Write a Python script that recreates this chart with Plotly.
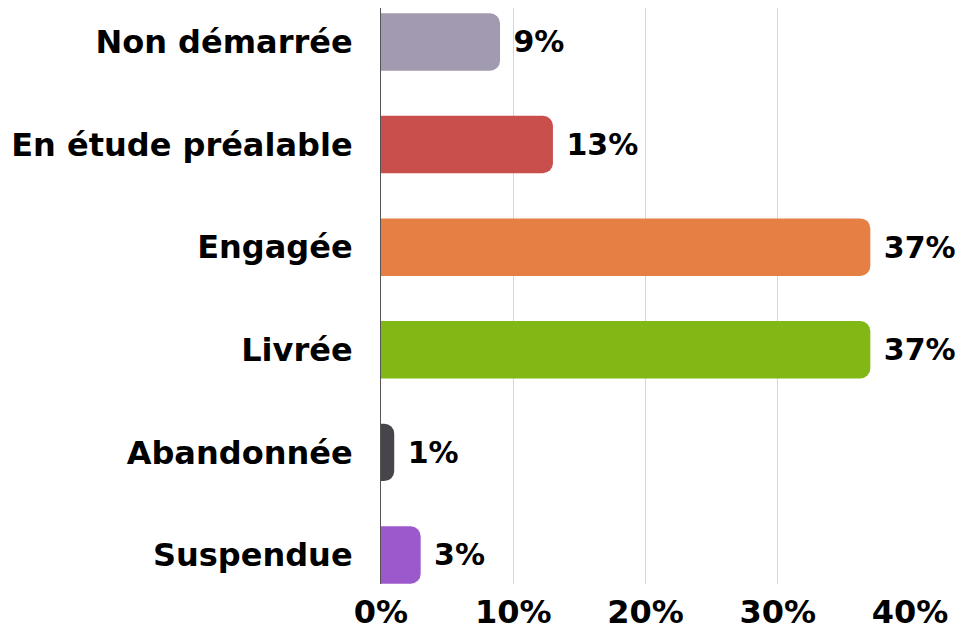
import plotly.graph_objects as go

# statuses, top to bottom
statuses = ["Non démarrée", "En étude préalable", "Engagée", "Livrée", "Abandonnée", "Suspendue"]
shares = [9, 13, 37, 37, 1, 3]
colors = ["#A29AB0", "#C94F4D", "#E57F43", "#82B816", "#48444B", "#9B59CC"]
tick_vals = [0, 10, 20, 30, 40]
tick_text = ["0%", "10%", "20%", "30%", "40%"]

font_family = "DejaVu Sans"
label_font = dict(family=font_family, size=32, color="#000000", weight="bold")
value_font = dict(family=font_family, size=30, color="#000000", weight="bold")

# plotted bottom-up so the first status ends on top
fig = go.Figure(go.Bar(
    x=shares[::-1],
    y=statuses[::-1],
    orientation="h",
    marker=dict(color=colors[::-1], cornerradius=10, line=dict(width=0)),
    text=[f"\u00a0{v}%" for v in shares[::-1]],
    textposition="outside",
    textfont=value_font,
    cliponaxis=False,
    constraintext="none",
    hoverinfo="skip",
))

# page body adds an 8px offset, so the figure is slightly smaller than the window
fig.update_layout(
    width=956, height=626,
    margin=dict(l=373, r=54, t=0, b=50),
    paper_bgcolor="white", plot_bgcolor="white",
    bargap=0.44,
    showlegend=False,
    xaxis=dict(
        range=[0, 40],
        tickvals=tick_vals, ticktext=tick_text,
        tickfont=label_font,
        ticklabelstandoff=6,
        showgrid=True, gridcolor="#D6D6D6", gridwidth=1,
        zeroline=False, showline=False, ticks="",
        automargin=False, fixedrange=True,
    ),
    yaxis=dict(
        type="category",
        categoryorder="array", categoryarray=statuses[::-1],
        range=[-0.283, 5.331],
        tickfont=label_font,
        ticklabelstandoff=21,
        showline=True, linecolor="#555555", linewidth=1,
        showgrid=False, zeroline=False, ticks="",
        automargin=False, fixedrange=True,
    ),
)

fig.write_html("out.html")
